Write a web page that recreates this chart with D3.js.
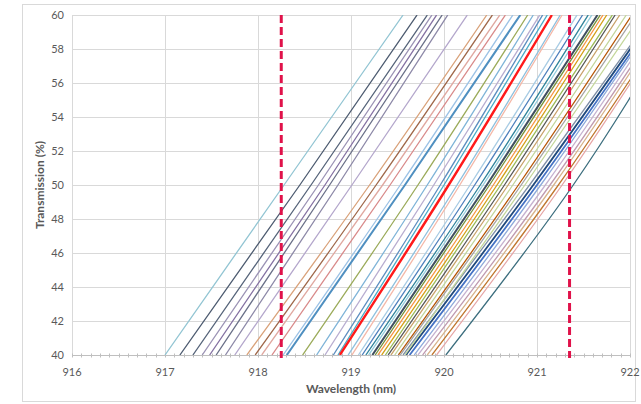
<!DOCTYPE html>
<html><head><meta charset="utf-8">
<script src="https://cdn.jsdelivr.net/npm/d3@7"></script>
<style>body{margin:0;background:#fff;} svg{display:block;font-family:Lato,"Open Sans",sans-serif;}</style>
</head><body>
<svg id="c" width="641" height="404"></svg>
<script>
// Transmission levels at which each curve's wavelength was read
const levels = [40, 50, 60];
// Wavelength (nm) of each curve at 40 %, 50 % and 60 % transmission
const wl40 = [917.00,917.16,917.30,917.40,917.48,917.55,917.65,917.75,
  917.88,917.97,918.04,918.15,918.27,918.31,918.48,918.63,918.72,918.81,918.86,
  918.97,919.01,919.08,919.12,919.16,919.19,919.23,919.26,919.29,919.33,919.37,919.40,919.43,919.47,919.51,919.53,
  919.56,919.59,919.63,919.68,919.72,919.77,919.82,919.87,919.92,920.02,919.58];
const wl50 = [918.28,918.45,918.57,918.65,918.72,918.77,918.86,919.01,
  919.20,919.27,919.34,919.42,919.53,919.58,919.72,919.82,919.89,919.96,920.00,
  920.14,920.17,920.28,920.33,920.39,920.42,920.46,920.49,920.53,920.57,920.61,920.65,920.69,920.74,920.80,920.83,
  920.92,920.96,921.00,921.04,921.09,921.14,921.18,921.23,921.27,921.39,920.87];
const wl60 = [919.56,919.71,919.82,919.87,919.92,919.98,920.04,920.25,
  920.46,920.52,920.60,920.66,920.74,920.82,920.90,920.96,921.03,921.06,921.11,
  921.25,921.27,921.43,921.49,921.55,921.59,921.65,921.68,921.71,921.75,921.81,921.84,921.89,921.96,922.02,922.06,
  922.24,922.26,922.29,922.31,922.34,922.38,922.41,922.46,922.48,922.54,922.12];
// Highlighted curve
const redCurve = {wl40: 918.88, wl50: 920.05, wl60: 921.16};
// Spec limits (dashed)
const limits = [918.25, 921.35];
const xTicks = [916,917,918,919,920,921,922];
const yTicks = [40,42,44,46,48,50,52,54,56,58,60];

const colors = ["#92c5d3","#4d5b70","#56647a","#9b93b5","#8572a3","#6a7088","#8d89a8","#b4a7cc",
  "#d9a27a","#a0684a","#e0a8a0","#d98a8a","#9dc3e6","#4f8fc0","#9bab5a","#7fb4d8","#b8add0","#5e8fc0","#4bacc6",
  "#8ec0de","#f4b8a8","#a8cce4","#4f81bd","#31859c","#93cddd","#3f4f5f","#77933c","#f79646","#d4a017","#9bbb59","#595959","#c9a36b","#c3d69b","#b65708","#a5a5a5",
  "#7f8fa6","#1f497d","#4472c4","#8eaadb","#c6b2d0","#c09bb0","#d8b48c","#c0772f","#e6a6a6","#3c6e7e","#c4d79b"];
const widths = {13:2, 25:2, 36:1.8, 37:1.8};

const svg = d3.select("#c");
const m = {l:72, r:630, t:15, b:355};
const x = d3.scaleLinear().domain([916,922]).range([m.l,m.r]);
const y = d3.scaleLinear().domain([40,60]).range([m.b,m.t]);

svg.append("rect").attr("x",22.5).attr("y",4.5).attr("width",613).attr("height",397)
  .attr("fill","#fff").attr("stroke","#d9d9d9");

// grid
svg.append("g").selectAll("line.h").data(yTicks.filter(d=>d>40)).join("line")
  .attr("x1",m.l).attr("x2",m.r).attr("y1",d=>y(d)+0.5).attr("y2",d=>y(d)+0.5)
  .attr("stroke","#d9d9d9").attr("stroke-width",1);
svg.append("g").selectAll("line.v").data(xTicks).join("line")
  .attr("y1",m.t).attr("y2",m.b).attr("x1",d=>Math.round(x(d))+0.5).attr("x2",d=>Math.round(x(d))+0.5)
  .attr("stroke","#d9d9d9").attr("stroke-width",1);

// x axis with minor ticks
const xAxis = svg.append("g").attr("transform",`translate(0,${m.b+0.5})`);
xAxis.append("line").attr("x1",m.l).attr("x2",m.r).attr("stroke","#bfbfbf");
const minor = d3.range(0,61).map(i=>916+i/10);
xAxis.selectAll("line.mt").data(minor).join("line")
  .attr("x1",d=>Math.round(x(d))+0.5).attr("x2",d=>Math.round(x(d))+0.5)
  .attr("y1",-2).attr("y2",2).attr("stroke","#bfbfbf");
xAxis.selectAll("text").data(xTicks).join("text")
  .attr("x",d=>x(d)).attr("y",20).attr("text-anchor","middle")
  .attr("font-size",11).attr("fill","#595959").text(d=>d);

svg.append("g").selectAll("text").data(yTicks).join("text")
  .attr("x",64).attr("y",d=>y(d)+4).attr("text-anchor","end")
  .attr("font-size",11).attr("fill","#595959").text(d=>d);

svg.append("text").attr("x",351).attr("y",393).attr("text-anchor","middle")
  .attr("font-size",12).attr("font-weight","bold").attr("fill","#595959").text("Wavelength (nm)");
svg.append("text").attr("transform","translate(44,185) rotate(-90)").attr("text-anchor","middle")
  .attr("font-size",12).attr("font-weight","bold").attr("fill","#595959").text("Transmission (%)");

// clip
svg.append("clipPath").attr("id","clip").append("rect")
  .attr("x",m.l).attr("y",m.t).attr("width",m.r-m.l).attr("height",m.b-m.t);

const line = d3.line().x(d=>x(d[0])).y(d=>y(d[1])).curve(d3.curveNatural);
const series = wl40.map((v,i)=>[[v,levels[0]],[wl50[i],levels[1]],[wl60[i],levels[2]]]);
const g = svg.append("g").attr("clip-path","url(#clip)");
g.selectAll("path.s").data(series).join("path")
  .attr("d",line).attr("fill","none")
  .attr("stroke",(d,i)=>colors[i]).attr("stroke-width",(d,i)=>widths[i]||1.3);
g.append("path").attr("d",line([[redCurve.wl40,40],[redCurve.wl50,50],[redCurve.wl60,60]]))
  .attr("fill","none").attr("stroke","#ff1a1a").attr("stroke-width",2.4);

// dashed limits
svg.append("g").selectAll("line").data(limits).join("line")
  .attr("x1",d=>x(d)).attr("x2",d=>x(d)).attr("y1",m.t).attr("y2",m.b+3)
  .attr("stroke","#e0124a").attr("stroke-width",3).attr("stroke-dasharray","8,4");
</script>
</body></html>
